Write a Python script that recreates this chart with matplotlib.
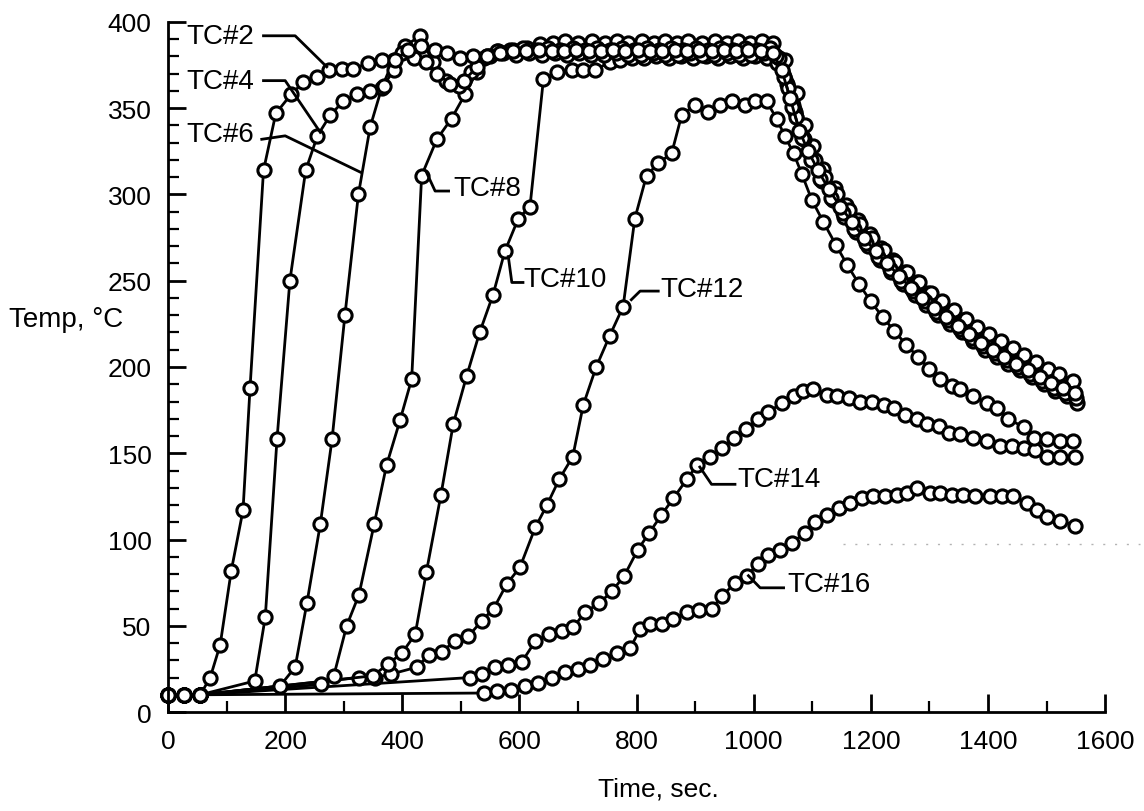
import matplotlib.pyplot as plt
from matplotlib.lines import Line2D
from matplotlib.ticker import MultipleLocator

plt.rcParams['font.family'] = ['Liberation Sans', 'DejaVu Sans']

# (time s, temp C), one list per thermocouple
tc2 = [(0, 10), (28, 10), (55, 10), (72, 20), (89, 39), (108, 82), (128, 117), (140, 188),
       (163, 314), (184, 347), (210, 358), (231, 365), (254, 368), (274, 372), (297, 373),
       (316, 373), (342, 376), (365, 378), (388, 378), (410, 384), (432, 386), (455, 384),
       (476, 382), (499, 379), (521, 380), (544, 380), (567, 382), (589, 383), (611, 383),
       (633, 384), (655, 383), (676, 383), (697, 384), (718, 383), (739, 383), (760, 384),
       (781, 383), (802, 384), (823, 383), (844, 383), (865, 384), (886, 383), (907, 384),
       (928, 383), (949, 384), (970, 383), (991, 384), (1012, 383), (1033, 382), (1048, 372),
       (1062, 356), (1078, 337), (1093, 325), (1110, 314), (1128, 303), (1148, 293),
       (1168, 284), (1188, 275), (1208, 267), (1228, 260), (1248, 253), (1268, 246),
       (1288, 240), (1308, 234), (1328, 229), (1348, 224), (1368, 219), (1388, 214),
       (1408, 210), (1428, 206), (1448, 202), (1468, 198), (1488, 194), (1508, 191),
       (1528, 188), (1548, 185)]

tc4 = [(0, 10), (28, 10), (55, 10), (148, 18), (166, 55), (186, 158), (208, 250), (235, 314),
       (255, 334), (277, 346), (299, 354), (322, 358), (345, 360), (368, 363), (385, 372),
       (400, 382), (420, 379), (440, 377), (460, 370), (482, 364), (505, 366), (528, 374),
       (550, 380), (572, 382), (594, 381), (616, 382), (638, 381), (660, 382), (681, 381),
       (702, 382), (723, 381), (744, 381), (765, 382), (786, 381), (807, 381), (828, 382),
       (849, 381), (870, 381), (891, 382), (912, 381), (933, 381), (954, 382), (975, 381),
       (996, 381), (1017, 382), (1038, 380), (1052, 368), (1066, 351), (1082, 333),
       (1097, 320), (1114, 309), (1132, 298), (1152, 289), (1172, 280), (1192, 272),
       (1212, 264), (1232, 257), (1252, 250), (1272, 244), (1292, 238), (1312, 232),
       (1332, 227), (1352, 222), (1372, 217), (1392, 212), (1412, 208), (1432, 204),
       (1452, 200), (1472, 196), (1492, 192), (1512, 188), (1532, 185), (1550, 182)]

tc6 = [(0, 10), (28, 10), (55, 10), (191, 15), (217, 26), (237, 63), (260, 109), (280, 158),
       (302, 230), (325, 300), (345, 339), (365, 362), (385, 378), (405, 386), (430, 392),
       (452, 377), (474, 366), (496, 363), (518, 371), (540, 379), (562, 383), (584, 384),
       (606, 385), (628, 384), (649, 385), (670, 384), (691, 385), (712, 384), (733, 385),
       (754, 384), (775, 385), (796, 384), (817, 385), (838, 384), (859, 385), (880, 384),
       (901, 385), (922, 384), (943, 385), (964, 384), (985, 385), (1006, 384), (1027, 385),
       (1044, 379), (1058, 362), (1072, 345), (1086, 332), (1104, 320), (1122, 310),
       (1142, 300), (1162, 291), (1182, 283), (1202, 275), (1222, 268), (1242, 261),
       (1262, 255), (1282, 249), (1302, 243), (1322, 238), (1342, 233), (1362, 228),
       (1382, 223), (1402, 219), (1422, 215), (1442, 211), (1462, 207), (1482, 203),
       (1502, 199), (1522, 196), (1545, 192)]

tc8 = [(0, 10), (28, 10), (55, 10), (261, 16), (283, 21), (305, 50), (326, 68), (352, 109),
       (373, 143), (396, 169), (416, 193), (433, 311), (459, 332), (484, 344), (507, 358),
       (527, 371), (544, 380), (564, 383), (589, 384), (613, 385), (635, 387), (658, 388),
       (678, 389), (700, 388), (724, 389), (746, 388), (766, 389), (786, 388), (809, 389),
       (829, 388), (848, 389), (869, 388), (888, 389), (912, 388), (934, 389), (954, 388),
       (974, 389), (994, 388), (1014, 389), (1033, 388), (1054, 378), (1074, 359),
       (1088, 340), (1102, 328), (1119, 315), (1138, 304), (1158, 294), (1178, 285),
       (1198, 277), (1218, 269), (1238, 262), (1258, 255), (1278, 249), (1298, 243),
       (1318, 237), (1338, 232), (1358, 227), (1378, 222), (1398, 217), (1418, 213),
       (1438, 209), (1458, 205), (1478, 201), (1498, 197), (1518, 193), (1540, 189)]

tc10 = [(0, 10), (28, 10), (55, 10), (350, 21), (376, 28), (399, 34), (422, 45), (441, 81),
        (466, 126), (487, 167), (510, 195), (532, 220), (555, 242), (575, 267), (598, 286),
        (618, 293), (641, 367), (664, 371), (689, 372), (709, 372), (729, 372), (755, 377),
        (772, 378), (792, 379), (813, 379), (834, 380), (855, 379), (876, 380), (897, 379),
        (918, 380), (939, 379), (960, 380), (981, 379), (1002, 380), (1023, 379), (1040, 376),
        (1056, 364), (1070, 348), (1084, 333), (1099, 320), (1116, 308), (1135, 297),
        (1155, 287), (1175, 278), (1195, 270), (1215, 262), (1235, 255), (1255, 248),
        (1275, 242), (1295, 236), (1315, 230), (1335, 225), (1355, 220), (1375, 215),
        (1395, 210), (1415, 206), (1435, 202), (1455, 198), (1475, 194), (1495, 190),
        (1515, 186), (1535, 183), (1552, 179)]

tc12 = [(0, 10), (28, 10), (55, 10), (326, 20), (353, 20), (381, 22), (425, 26), (445, 33),
        (467, 35), (490, 41), (513, 44), (536, 53), (556, 60), (578, 74), (601, 84), (627, 107),
        (647, 120), (668, 135), (691, 148), (709, 178), (731, 200), (754, 218), (777, 235),
        (797, 286), (817, 311), (837, 318), (860, 324), (877, 346), (900, 352), (922, 348),
        (943, 352), (963, 354), (985, 352), (1002, 354), (1022, 354), (1039, 344), (1053, 334),
        (1068, 324), (1082, 312), (1099, 297), (1119, 284), (1140, 271), (1160, 259),
        (1180, 248), (1200, 238), (1220, 229), (1240, 221), (1260, 213), (1280, 206),
        (1300, 199), (1318, 193), (1338, 189), (1352, 187), (1375, 183), (1398, 179),
        (1415, 176), (1435, 170), (1461, 165), (1479, 159), (1501, 158), (1523, 157),
        (1546, 157)]

tc14 = [(0, 10), (28, 10), (55, 10), (516, 20), (536, 22), (558, 26), (580, 27), (604, 29),
        (627, 41), (650, 45), (672, 47), (692, 49), (712, 58), (736, 63), (758, 70), (779, 79),
        (802, 94), (822, 104), (842, 114), (863, 124), (886, 135), (903, 143), (926, 148),
        (946, 153), (966, 159), (986, 164), (1008, 170), (1025, 174), (1048, 179), (1068, 183),
        (1085, 186), (1102, 187), (1125, 184), (1142, 183), (1162, 182), (1182, 180),
        (1202, 180), (1222, 178), (1239, 176), (1259, 172), (1279, 170), (1296, 167),
        (1316, 166), (1333, 162), (1353, 161), (1375, 159), (1398, 157), (1421, 154),
        (1441, 154), (1461, 153), (1481, 152), (1501, 148), (1523, 148), (1549, 148)]

tc16 = [(0, 10), (28, 10), (55, 10), (540, 11), (562, 12), (585, 13), (610, 15), (632, 17),
        (655, 20), (678, 23), (700, 25), (721, 27), (743, 31), (766, 34), (789, 37), (806, 48),
        (823, 51), (843, 51), (863, 54), (886, 58), (906, 59), (928, 60), (946, 67), (968, 75),
        (988, 79), (1008, 86), (1025, 91), (1045, 94), (1065, 98), (1088, 104), (1105, 110),
        (1125, 114), (1145, 118), (1165, 121), (1185, 124), (1204, 125), (1224, 125),
        (1244, 126), (1261, 127), (1278, 130), (1301, 127), (1318, 127), (1338, 126),
        (1358, 126), (1378, 125), (1404, 125), (1424, 125), (1443, 125), (1466, 121),
        (1483, 117), (1501, 113), (1523, 111), (1549, 108)]

curves = [tc16, tc14, tc12, tc10, tc8, tc6, tc4, tc2]

# label text anchor and leader line for each thermocouple
labels = [
    ("TC#2", (32, 392), [(163, 392), (217, 392), (271, 374)]),
    ("TC#4", (32, 366), [(163, 366), (200, 366), (260, 336)]),
    ("TC#6", (32, 335), [(160, 332), (200, 334), (328, 313)]),
    ("TC#8", (487, 304), [(441, 313), (456, 302), (479, 302)]),
    ("TC#10", (607, 251), [(581, 264), (587, 249), (606, 249)]),
    ("TC#12", (840, 245), [(791, 239), (806, 244), (837, 244)]),
    ("TC#14", (972, 135), [(908, 142), (928, 132), (968, 132)]),
    ("TC#16", (1057, 74), [(991, 79), (1011, 72), (1051, 72)]),
]

fig = plt.figure(figsize=(11.44, 8.12), dpi=100)
ax = fig.add_axes([0.1469, 0.1219, 0.8191, 0.8498])

for pts in curves:
    t, temp = zip(*pts)
    ax.plot(t, temp, '-o', color='black', lw=2.0, ms=9.5,
            mfc='white', mec='black', mew=2.2, clip_on=False)

for name, (tx, ty), leader in labels:
    lx, ly = zip(*leader)
    ax.plot(lx, ly, color='black', lw=2.0)
    ax.text(tx, ty, name, fontsize=20, ha='left', va='center')

ax.set_xlim(0, 1600)
ax.set_ylim(0, 400)
ax.xaxis.set_major_locator(MultipleLocator(200))
ax.xaxis.set_minor_locator(MultipleLocator(100))
ax.yaxis.set_major_locator(MultipleLocator(50))
ax.yaxis.set_minor_locator(MultipleLocator(10))
for side in ('top', 'right'):
    ax.spines[side].set_visible(False)
for side in ('left', 'bottom'):
    ax.spines[side].set_linewidth(2)
ax.tick_params(which='major', direction='in', length=13, width=2, labelsize=19, pad=12)
ax.tick_params(which='minor', direction='in', length=8, width=1.6)

fig.text(123 / 1144, 1 - 320 / 812, 'Temp, °C', fontsize=20, ha='right', va='center')
fig.text(658 / 1144, 1 - 790 / 812, 'Time, sec.', fontsize=19, ha='center', va='center')

# faint scanner streak to the right of TC#16
fig.add_artist(Line2D([843 / 1144, 1140 / 1144], [1 - 545 / 812, 1 - 545 / 812],
                      color='0.7', lw=1.0, dashes=(1.5, 7)))

fig.savefig('out.png', dpi=100)
